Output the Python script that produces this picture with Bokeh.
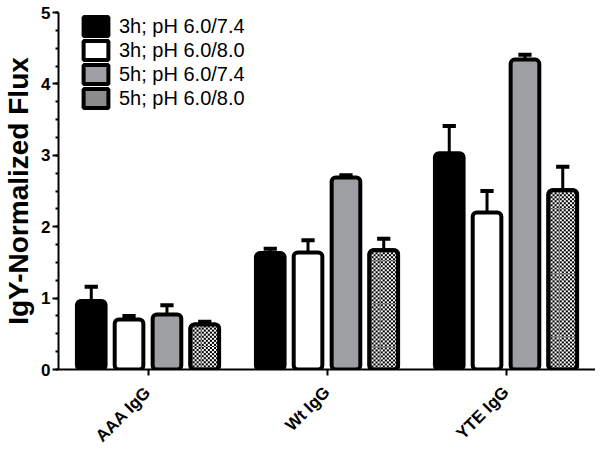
import math
import numpy as np
from bokeh.plotting import figure
from bokeh.models import ColumnDataSource, FactorRange, Range1d, Legend, LegendItem, FixedTicker
from bokeh.transform import dodge
from bokeh.embed import file_html
from bokeh.resources import INLINE

categories = ["AAA IgG", "Wt IgG", "YTE IgG"]
series = ["3h; pH 6.0/7.4", "3h; pH 6.0/8.0", "5h; pH 6.0/7.4", "5h; pH 6.0/8.0"]
vals_3h_74 = [0.96, 1.63, 3.03]
vals_3h_80 = [0.70, 1.64, 2.20]
vals_5h_74 = [0.77, 2.69, 4.34]
vals_5h_80 = [0.63, 1.67, 2.51]
err_3h_74 = [0.20, 0.06, 0.38]
err_3h_80 = [0.05, 0.17, 0.30]
err_5h_74 = [0.13, 0.03, 0.07]
err_5h_80 = [0.04, 0.16, 0.33]
y_ticks = [0, 1, 2, 3, 4, 5]

all_vals = [vals_3h_74, vals_3h_80, vals_5h_74, vals_5h_80]
all_errs = [err_3h_74, err_3h_80, err_5h_74, err_5h_80]
offsets = [-0.317, -0.106, 0.106, 0.317]
BAR_W = 0.16
fills = ["black", "white", "#9e9fa3", "#8c8c8c"]

FONT = "Liberation Sans"
FRAME_H = 363  # px
PX_PER_UNIT_Y = FRAME_H / 5.0
PX_PER_UNIT_X = 546 / 3.0
CELL = 2  # checker cell size in px


def checker(val):
    rows = max(1, int(round(val * PX_PER_UNIT_Y / CELL)))
    cols = max(1, int(round(BAR_W * PX_PER_UNIT_X / CELL)))
    ii, jj = np.indices((rows, cols))
    img = np.where((ii + jj) % 2 == 0, 0xFF000000, 0xFFFFFFFF).astype(np.uint32)
    return img


p = figure(x_range=FactorRange(*categories, range_padding=0), y_range=Range1d(0, 5),
           width=595, height=455, output_backend="svg", toolbar_location=None,
           min_border_left=49, min_border_right=0, min_border_top=12, min_border_bottom=80)
p.x_range.range_padding = 0
p.outline_line_color = None
p.xgrid.grid_line_color = None
p.ygrid.grid_line_color = None
p.background_fill_color = "white"

items = []
for i in range(4):
    top = [v + e for v, e in zip(all_vals[i], all_errs[i])]
    src = ColumnDataSource(dict(cat=categories, val=all_vals[i], top=top))
    off = offsets[i]
    xs = dodge("cat", off, range=p.x_range)
    p.segment(x0=xs, x1=xs, y0="val", y1="top", source=src, line_color="black", line_width=3)
    p.segment(x0=dodge("cat", off - 0.037, range=p.x_range), x1=dodge("cat", off + 0.037, range=p.x_range),
              y0="top", y1="top", source=src, line_color="black", line_width=4)
    r = p.vbar(x=xs, top="val", width=BAR_W, source=src, fill_color=fills[i],
               line_color="black", line_width=4, border_radius=4)
    if i == 3:
        src_img = ColumnDataSource(dict(cat=categories, val=all_vals[i],
                                        image=[checker(v) for v in all_vals[i]]))
        p.image_rgba(image="image", x=dodge("cat", off - BAR_W / 2, range=p.x_range), y=0,
                     dw=BAR_W, dh="val", source=src_img)
        p.vbar(x=xs, top="val", width=BAR_W, source=src, fill_color=None,
               line_color="black", line_width=4, border_radius=4)
    items.append(LegendItem(label=series[i], renderers=[r]))

legend = Legend(items=items, location=(22, 259), padding=0, margin=0,
                border_line_color=None, background_fill_alpha=0,
                glyph_width=31, glyph_height=24, label_height=22, spacing=0,
                label_standoff=8, label_text_font=FONT, label_text_font_size="20px",
                label_text_color="black")
p.add_layout(legend)

p.yaxis.ticker = FixedTicker(ticks=y_ticks, minor_ticks=[i * 0.25 for i in range(21)])
p.yaxis.axis_label = "IgY-Normalized Flux"
p.yaxis.axis_label_text_font = FONT
p.yaxis.axis_label_text_font_style = "bold"
p.yaxis.axis_label_text_font_size = "28px"
p.yaxis.axis_label_standoff = 4
p.yaxis.major_label_text_font = FONT
p.yaxis.major_label_text_font_style = "bold"
p.yaxis.major_label_text_font_size = "17px"
p.yaxis.major_label_standoff = 2

for ax in (p.xaxis, p.yaxis):
    ax.axis_line_width = 2
    ax.axis_line_color = "black"
    ax.major_tick_line_width = 2
    ax.major_tick_line_color = "black"
    ax.major_tick_in = 0
    ax.major_tick_out = 6
    ax.minor_tick_line_width = 2
    ax.minor_tick_line_color = "black"
    ax.minor_tick_in = 0
    ax.minor_tick_out = 3
    ax.major_label_text_color = "black"
    ax.axis_label_text_color = "black"

p.xaxis.major_label_orientation = math.pi / 4
p.xaxis.major_label_text_font = FONT
p.xaxis.major_label_text_font_style = "bold"
p.xaxis.major_label_text_font_size = "17px"
p.xaxis.major_label_standoff = 14

open("out.html", "w").write(file_html(p, INLINE))
